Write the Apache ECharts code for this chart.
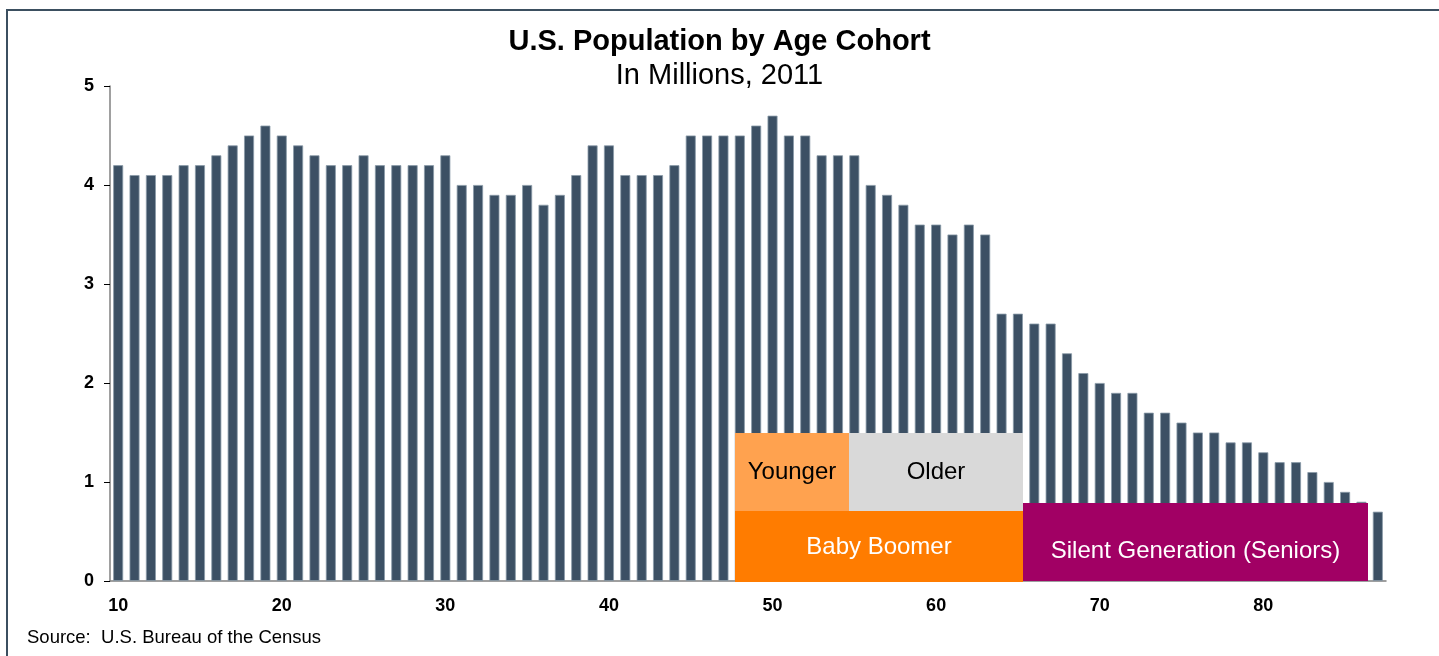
<!DOCTYPE html>
<html>
<head>
<meta charset="utf-8">
<title>U.S. Population by Age Cohort</title>
<script src="https://cdn.jsdelivr.net/npm/echarts@6/dist/echarts.min.js"></script>
<style>
  html, body { margin: 0; padding: 0; background: #fff; }
  .frame {
    position: absolute; left: 6px; top: 9px; right: 0; bottom: 0;
    border-top: 2px solid #3b4f60; border-left: 2px solid #3b4f60;
  }
  #chart { position: absolute; left: 0; top: 0; width: 1439px; height: 656px; }
</style>
</head>
<body>
<div class="frame"></div>
<div id="chart"></div>
<script>
// ages 10 .. 87, one bar per year of age
const ages = [];
for (let a = 10; a <= 87; a++) ages.push(String(a));

// population in millions
const population = [
  4.2, 4.1, 4.1, 4.1, 4.2, 4.2, 4.3, 4.4, 4.5, 4.6,   // 10-19
  4.5, 4.4, 4.3, 4.2, 4.2, 4.3, 4.2, 4.2, 4.2, 4.2,   // 20-29
  4.3, 4.0, 4.0, 3.9, 3.9, 4.0, 3.8, 3.9, 4.1, 4.4,   // 30-39
  4.4, 4.1, 4.1, 4.1, 4.2, 4.5, 4.5, 4.5, 4.5, 4.6,   // 40-49
  4.7, 4.5, 4.5, 4.3, 4.3, 4.3, 4.0, 3.9, 3.8, 3.6,   // 50-59
  3.6, 3.5, 3.6, 3.5, 2.7, 2.7, 2.6, 2.6, 2.3, 2.1,   // 60-69
  2.0, 1.9, 1.9, 1.7, 1.7, 1.6, 1.5, 1.5, 1.4, 1.4,   // 70-79
  1.3, 1.2, 1.2, 1.1, 1.0, 0.9, 0.8, 0.7              // 80-87
];

const yTicks = [0, 1, 2, 3, 4, 5];

// cohort boxes drawn over the bars (age span, millions span)
const cohortNames = ['Younger', 'Older', 'Baby Boomer', 'Silent Generation (Seniors)'];
const cohortFrom  = [48.2, 55.2, 48.2, 65.8];
const cohortTo    = [55.2, 65.8, 65.8, 86.9];
const cohortLow   = [0.71, 0.71, -0.015, 0];
const cohortHigh  = [1.495, 1.495, 0.71, 0.79];

const cohortFill = ['#ffa24f', '#d9d9d9', '#ff7c00', '#a10064'];
const cohortText = ['#000000', '#000000', '#ffffff', '#ffffff'];
const cohortTextShift = [0, 0, 1, 9];

const FONT = '"Liberation Sans", Arial, sans-serif';

const chart = echarts.init(document.getElementById('chart'));

const cohortData = cohortNames.map((n, i) => [cohortFrom[i], cohortTo[i], cohortLow[i], cohortHigh[i], n]);

chart.setOption({
  animation: false,
  title: [
    { text: 'U.S. Population by Age Cohort', left: 'center', top: 27, padding: 0,
      textStyle: { fontFamily: FONT, fontSize: 29, fontWeight: 'bold', color: '#000' } },
    { text: 'In Millions, 2011', left: 'center', top: 61, padding: 0,
      textStyle: { fontFamily: FONT, fontSize: 29, fontWeight: 'normal', color: '#000' } },
    { text: 'Source:  U.S. Bureau of the Census', left: 27, top: 628, padding: 0,
      textStyle: { fontFamily: FONT, fontSize: 18.5, fontWeight: 'normal', color: '#000' } }
  ],
  grid: { left: 110, right: 53, top: 86, bottom: 75, containLabel: false },
  xAxis: [
    {
      type: 'category',
      data: ages,
      boundaryGap: true,
      axisLine: { lineStyle: { color: '#808080', width: 1.5 } },
      axisTick: {
        length: 6,
        lineStyle: { color: '#000' },
        interval: (i, v) => Number(v) % 10 === 0
      },
      axisLabel: {
        interval: (i, v) => Number(v) % 10 === 0,
        margin: 16,
        fontFamily: FONT, fontSize: 18, fontWeight: 'bold', color: '#000'
      },
      splitLine: { show: false }
    },
    { type: 'value', min: 10, max: 88, show: false }
  ],
  yAxis: {
    type: 'value',
    min: 0, max: 5, interval: 1,
    axisLine: { show: true, lineStyle: { color: '#808080', width: 1.5 } },
    axisTick: { show: true, length: 6, lineStyle: { color: '#000' } },
    axisLabel: {
      margin: 16,
      fontFamily: FONT, fontSize: 18, fontWeight: 'bold', color: '#000',
      formatter: v => (yTicks.indexOf(v) >= 0 ? String(v) : '')
    },
    splitLine: { show: false }
  },
  series: [
    {
      type: 'bar',
      data: population,
      barWidth: '61%',
      itemStyle: { color: '#3c5064', borderColor: '#8a9aa8', borderWidth: 0.8 }
    },
    {
      type: 'custom',
      xAxisIndex: 1,
      yAxisIndex: 0,
      data: cohortData,
      encode: { x: [0, 1], y: [2, 3] },
      clip: false,
      z: 5,
      renderItem: (params, api) => {
        const i = params.dataIndex;
        const p0 = api.coord([api.value(0), api.value(3)]).map(Math.round);
        const p1 = api.coord([api.value(1), api.value(2)]).map(Math.round);
        return {
          type: 'rect',
          shape: { x: p0[0], y: p0[1], width: p1[0] - p0[0], height: p1[1] - p0[1] },
          style: { fill: cohortFill[i] },
          textContent: {
            style: {
              text: cohortNames[i],
              fill: cohortText[i],
              fontFamily: FONT, fontSize: 24
            }
          },
          textConfig: { position: 'inside', offset: [0, cohortTextShift[i]] }
        };
      }
    }
  ]
});
</script>
</body>
</html>
